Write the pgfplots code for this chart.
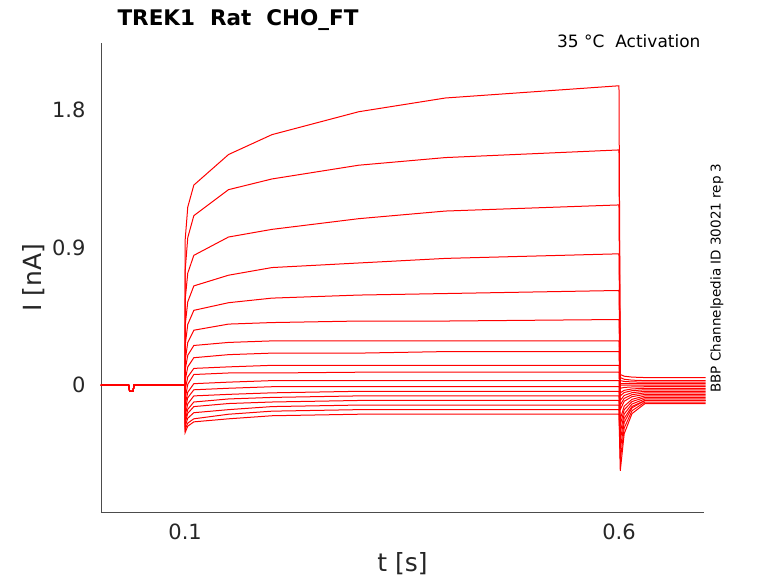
\documentclass[border=0pt]{standalone}
\usepackage{pgfplots}
\pgfplotsset{compat=1.18}
\usepackage{fontspec}
\setmainfont{DejaVu Sans}
\usetikzlibrary{calc}
\newcommand\tr[9]{\addplot[red, line width=1pt] coordinates {(0.003,0)(0.035,0)(0.036,-0.04)(0.04,-0.04)(0.041,0)(0.0999,0)(0.1,#1)(0.103,{#1+0.6*(#2-#1)})(0.11,#2)(0.15,#3)(0.2,#4)(0.3,#5)(0.4,#6)(0.6,#7)(0.6015,#8)(0.606,{#9+0.45*(#8-#9)})(0.615,{#9+0.15*(#8-#9)})(0.63,#9)(0.7,#9)};}
\begin{document}
\begin{tikzpicture}[x=1pt,y=1pt]
\begin{axis}[name=ax, scale only axis, width=603pt, height=469pt,
 xmin=0.003, xmax=0.698, ymin=-0.83, ymax=2.24,
 axis lines=left, axis line style={-, black!70}, major tick length=0pt,
 xtick={0.1,0.6}, ytick={0,0.9,1.8},
 xticklabels={0.1,0.6}, yticklabels={0,0.9,1.8},
 tick label style={font=\fontsize{21}{24}\selectfont, text=black!85},
 xticklabel style={yshift=-8pt}, yticklabel style={xshift=-12pt},
 xlabel={t [s]}, ylabel={I [nA]},
 label style={font=\fontsize{25}{28}\selectfont, text=black!85},
 xlabel style={yshift=-6pt}, ylabel style={yshift=0pt},
 clip=false]
\tr{0.95}{1.31}{1.51}{1.64}{1.79}{1.88}{1.96}{0.07}{0.05}
\tr{0.75}{1.11}{1.28}{1.35}{1.44}{1.49}{1.54}{0.05}{0.03}
\tr{0.56}{0.85}{0.97}{1.02}{1.09}{1.14}{1.18}{0.03}{0.02}
\tr{0.39}{0.65}{0.72}{0.77}{0.80}{0.83}{0.86}{0.01}{0.01}
\tr{0.26}{0.49}{0.54}{0.57}{0.59}{0.60}{0.62}{0.00}{0.00}
\tr{0.16}{0.36}{0.40}{0.41}{0.42}{0.42}{0.43}{-0.02}{-0.01}
\tr{0.10}{0.26}{0.28}{0.29}{0.29}{0.29}{0.29}{-0.05}{-0.02}
\tr{0.03}{0.18}{0.20}{0.21}{0.21}{0.22}{0.22}{-0.07}{-0.03}
\tr{-0.03}{0.11}{0.12}{0.13}{0.13}{0.13}{0.13}{-0.10}{-0.04}
\tr{-0.09}{0.07}{0.08}{0.08}{0.085}{0.085}{0.085}{-0.13}{-0.05}
\tr{-0.13}{0.01}{0.02}{0.03}{0.03}{0.03}{0.03}{-0.16}{-0.06}
\tr{-0.16}{-0.03}{-0.02}{-0.01}{-0.01}{-0.01}{-0.01}{-0.22}{-0.07}
\tr{-0.20}{-0.07}{-0.06}{-0.05}{-0.04}{-0.04}{-0.04}{-0.26}{-0.08}
\tr{-0.23}{-0.11}{-0.09}{-0.08}{-0.07}{-0.07}{-0.07}{-0.31}{-0.09}
\tr{-0.25}{-0.14}{-0.12}{-0.11}{-0.10}{-0.10}{-0.10}{-0.36}{-0.10}
\tr{-0.27}{-0.18}{-0.16}{-0.14}{-0.13}{-0.13}{-0.13}{-0.42}{-0.10}
\tr{-0.29}{-0.22}{-0.19}{-0.17}{-0.16}{-0.16}{-0.16}{-0.49}{-0.11}
\tr{-0.31}{-0.24}{-0.22}{-0.20}{-0.19}{-0.19}{-0.19}{-0.56}{-0.12}
\end{axis}
\path ($(ax.south west)+(-101pt,-71pt)$) rectangle ++(778pt,583pt);
\node[anchor=base west, font=\bfseries\fontsize{21.5}{24}\selectfont] at ($(ax.north west)+(13pt,17pt)$) {TREK1\ \ Rat\ \ CHO\_FT};
\node[anchor=base east, font=\fontsize{17}{20}\selectfont] at ($(ax.north east)+(0pt,-5pt)$) {35 °C\ \ Activation};
\node[rotate=90, font=\fontsize{13.5}{16}\selectfont] at ($(ax.south east)+(13pt,234pt)$) {BBP Channelpedia ID 30021 rep 3};
\end{tikzpicture}
\end{document}
